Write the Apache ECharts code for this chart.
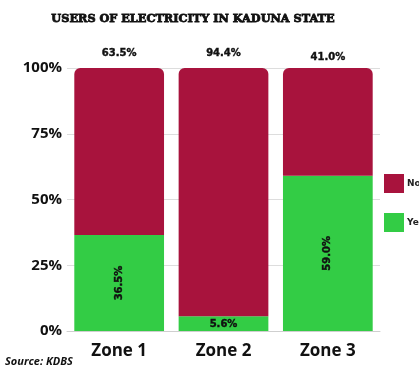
<!DOCTYPE html>
<html>
<head>
<meta charset="utf-8">
<script src="https://cdn.jsdelivr.net/npm/echarts@6/dist/echarts.min.js"></script>
<style>
  html, body { margin: 0; padding: 0; background: #fff; }
  #chart { width: 419px; height: 370px; }
</style>
</head>
<body>
<div id="chart"></div>
<script>
// Share of households using electricity, by zone
const zones = ['Zone 1', 'Zone 2', 'Zone 3'];
const yesShare = [36.5, 5.6, 59.0];
const noShare = [63.5, 94.4, 41.0];
const yTicks = [0, 25, 50, 75, 100];

const RED = '#A8133D';
const GREEN = '#33CC45';

const chart = echarts.init(document.getElementById('chart'), null, { renderer: 'canvas' });

const labelFont = {
  fontFamily: 'DejaVu Sans', fontWeight: 'bold', fontSize: 10, color: '#111',
  textBorderColor: '#111', textBorderWidth: 0.4
};

chart.setOption({
  animation: false,
  backgroundColor: '#ffffff',
  title: {
    text: 'USERS OF ELECTRICITY IN KADUNA STATE',
    left: 188, top: 9, textAlign: 'center',
    textStyle: {
      fontFamily: 'DejaVu Serif', fontWeight: 'bold', fontSize: 11.3, color: '#111',
      textBorderColor: '#111', textBorderWidth: 0.8
    }
  },
  legend: {
    orient: 'vertical', left: 384, top: 174, padding: 0,
    itemWidth: 20, itemHeight: 19, itemGap: 20,
    icon: 'rect',
    data: ['No', 'Yes'],
    textStyle: { fontFamily: 'DejaVu Sans', fontWeight: 'bold', fontSize: 9, color: '#222', padding: [0, 0, 9, -2] }
  },
  graphic: [{
    type: 'text', left: 5, top: 356,
    style: { text: 'Source: KDBS', font: 'italic bold 11px "Open Sans"', fill: '#111' }
  }],
  grid: { left: 67, right: 39, top: 68, bottom: 39 },
  xAxis: {
    type: 'category', data: zones,
    axisLine: { lineStyle: { color: '#cfcfcf' } },
    axisTick: { show: false },
    axisLabel: { margin: 12, fontFamily: 'Open Sans', fontWeight: 'bold', fontSize: 17, color: '#111' }
  },
  yAxis: {
    type: 'value', min: 0, max: 100, interval: 25,
    axisLine: { show: false }, axisTick: { show: false },
    splitLine: { lineStyle: { color: '#dddddd' } },
    axisLabel: {
      margin: 5, fontFamily: 'Open Sans', fontWeight: 'bold', fontSize: 15, color: '#111',
      formatter: v => yTicks.includes(v) ? v + '%' : ''
    }
  },
  series: [
    {
      name: 'Yes', type: 'bar', stack: 'share', barCategoryGap: '14%',
      itemStyle: { color: GREEN },
      data: yesShare.map(v => ({
        value: v,
        label: {
          show: true,
          position: 'inside',
          rotate: v < 10 ? 0 : 90,
          offset: v < 10 ? [0, 1] : [0, 0],
          formatter: p => p.value.toFixed(1) + '%',
          ...labelFont
        }
      }))
    },
    {
      name: 'No', type: 'bar', stack: 'share',
      itemStyle: { color: RED, borderRadius: [6, 6, 0, 0] },
      data: noShare.map((v, i) => ({
        value: v,
        label: {
          show: true,
          position: 'top',
          distance: i === 2 ? 6 : 10,
          formatter: p => p.value.toFixed(1) + '%',
          ...labelFont
        }
      }))
    }
  ]
});
</script>
</body>
</html>
